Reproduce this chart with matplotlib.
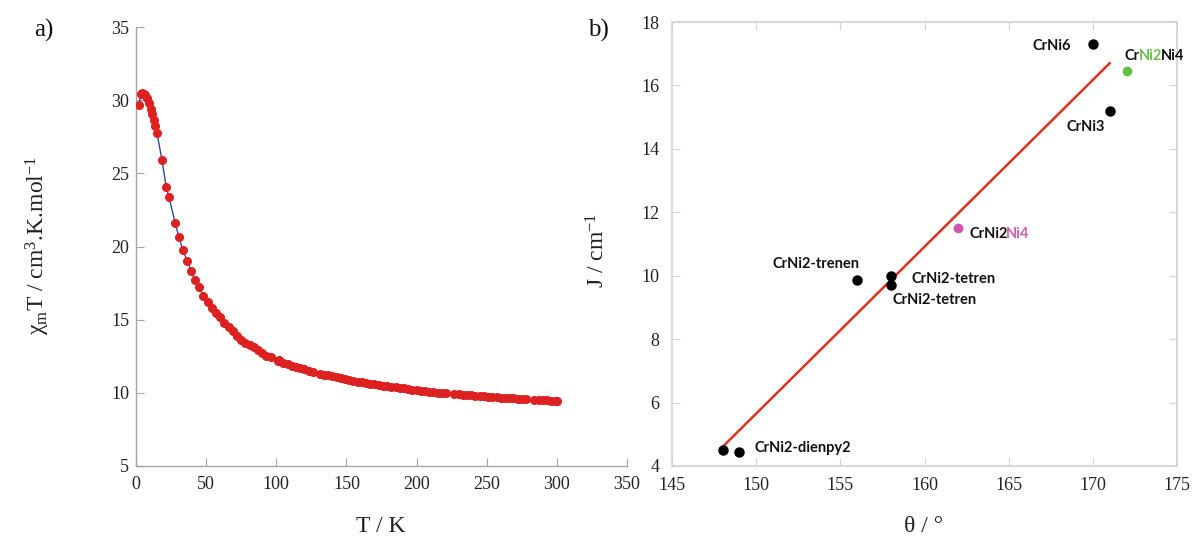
import numpy as np
import matplotlib as mpl
mpl.use('Agg')
import matplotlib.pyplot as plt

SERIF = 'Liberation Serif'
SANS = 'Lato'
plt.rcParams['font.family'] = [SERIF, 'DejaVu Serif']
plt.rcParams['mathtext.fontset'] = 'custom'
plt.rcParams['mathtext.rm'] = SERIF
plt.rcParams['mathtext.it'] = SERIF + ':italic'
plt.rcParams['mathtext.bf'] = SERIF + ':bold'

# ---- a) chi_m T vs T (read off the picture)
T_K = [2, 3.5, 4.5, 5.5, 6.5, 8, 9.5, 10.5, 11.5, 12.5, 13.5, 15, 18.5, 21.5, 23.5,
       28, 30.5, 33.5, 36.5, 39.5, 42, 45, 48, 51, 54, 57, 60, 63, 66, 69, 72, 75,
       78, 81, 84, 87, 90, 93, 96, 101, 102, 105, 108, 111, 114, 117, 120, 123, 126,
       131, 134, 137, 140, 143, 146, 149, 152, 155, 158, 161, 164, 167, 170, 173,
       176, 179, 182, 185, 188, 191, 194, 197, 200, 203, 206, 209, 212, 215, 218,
       221, 227, 230, 233, 236, 239, 242, 245, 248, 251, 254, 257, 260, 263, 266,
       269, 272, 275, 278, 284, 287, 290, 293, 296, 299, 300]
chiT = [29.7, 30.4, 30.5, 30.45, 30.35, 30.15, 29.8, 29.4, 29.05, 28.65, 28.25, 27.75,
        25.9, 24.1, 23.35, 21.6, 20.65, 19.75, 19.0, 18.3, 17.7, 17.2, 16.65, 16.2,
        15.8, 15.45, 15.15, 14.8, 14.5, 14.2, 13.85, 13.6, 13.4, 13.25, 13.1, 12.9,
        12.7, 12.55, 12.45, 12.2, 12.25, 12.05, 11.95, 11.85, 11.75, 11.68, 11.6,
        11.52, 11.45, 11.3, 11.25, 11.2, 11.12, 11.05, 10.98, 10.92, 10.86, 10.8,
        10.76, 10.72, 10.68, 10.63, 10.58, 10.55, 10.5, 10.46, 10.42, 10.38, 10.34,
        10.3, 10.26, 10.22, 10.18, 10.14, 10.1, 10.07, 10.04, 10.01, 9.99, 9.97,
        9.93, 9.9, 9.88, 9.85, 9.83, 9.8, 9.78, 9.76, 9.74, 9.72, 9.7, 9.68, 9.66,
        9.64, 9.62, 9.6, 9.58, 9.56, 9.53, 9.51, 9.5, 9.49, 9.47, 9.45, 9.44]

# ---- b) J vs theta
theta_black = [148, 149, 156, 158, 158, 170, 171]
J_black = [4.5, 4.45, 9.85, 10.0, 9.7, 17.3, 15.2]
theta_green, J_green = 172, 16.45
theta_pink, J_pink = 162, 11.5
fit_theta = [148, 171]
fit_J = [4.6, 16.7]

fig = plt.figure(figsize=(11.96, 5.41), dpi=100)
ax1 = fig.add_axes([136/1196, 1-466/541, 491/1196, 439/541])
ax2 = fig.add_axes([672/1196, 1-466/541, 505/1196, 444/541])

# left panel
ax1.plot(T_K, chiT, color='#3344aa', lw=1.0, zorder=2)
ax1.plot(T_K, chiT, 'o', color='#dd2020', ms=5.5, mec='#dd2020', zorder=3)
ax1.set_xlim(0, 350)
ax1.set_ylim(5, 35)
ax1.set_xticks(np.arange(0, 351, 50))
ax1.set_yticks(np.arange(5, 36, 5))
for s in ['top', 'right']:
    ax1.spines[s].set_visible(False)
for s in ['left', 'bottom']:
    ax1.spines[s].set_color('#aaa2a2')
    ax1.spines[s].set_linewidth(1.0)
ax1.tick_params(direction='in', length=6, color='#aaa2a2', labelsize=13,
                labelcolor='#222222')
ax1.tick_params(axis='y', pad=5)
ax1.tick_params(axis='x', pad=7)

# right panel
ax2.plot(fit_theta, fit_J, color='#e03020', lw=1.8, zorder=2)
ax2.plot(theta_black, J_black, 'o', color='black', ms=6.5, zorder=3)
ax2.plot([theta_green], [J_green], 'o', color='#66c040', ms=6, zorder=3)
ax2.plot([theta_pink], [J_pink], 'o', color='#d055b0', ms=6, zorder=3)
ax2.set_xlim(145, 175)
ax2.set_ylim(4, 18)
ax2.set_xticks(np.arange(145, 176, 5))
ax2.set_yticks(np.arange(4, 19, 2))
for s in ax2.spines.values():
    s.set_color('#d8d0d0')
    s.set_linewidth(1.2)
ax2.tick_params(direction='in', length=6, color='#d8d0d0', labelsize=13,
                labelcolor='#222222', top=True, right=True)
ax2.tick_params(axis='y', pad=9)
ax2.tick_params(axis='x', pad=8)

lab_kw = dict(fontsize=10.5, fontweight='bold', family=SANS)
renderer = fig.canvas.get_renderer()


def multi_text(ax, x, y, parts):
    # coloured pieces of one label, put side by side
    t = ax.text(x, y, parts[0][0], color=parts[0][1], ha='left', va='baseline', **lab_kw)
    prev = parts[0][0]
    for s, c in parts[1:]:
        ex = t.get_window_extent(renderer)
        x0, y0 = t.get_transform().transform(t.get_position())
        x1 = ex.x1 - (2 if prev[-1].isdigit() else 0)  # tabular digits leave a gap
        t = ax.text(x1, y0, s, color=c, ha='left', va='baseline',
                    transform=None, **lab_kw)
        prev = s
    return t


ax2.text(168.7, 17.24, 'CrNi6', ha='right', va='center', color='#111111', **lab_kw)
multi_text(ax2, 171.86, 16.80, [('Cr', '#111111'), ('Ni2', '#6cc04a'), ('Ni4', '#111111')])
ax2.text(169.6, 14.69, 'CrNi3', ha='center', va='center', color='#111111', **lab_kw)
multi_text(ax2, 162.7, 11.19, [('CrNi2', '#111111'), ('Ni4', '#d060b0')])
ax2.text(153.56, 10.37, 'CrNi2-trenen', ha='center', va='center', color='#111111', **lab_kw)
ax2.text(159.2, 9.9, 'CrNi2-tetren', ha='left', va='center', color='#111111', **lab_kw)
ax2.text(158.07, 9.23, 'CrNi2-tetren', ha='left', va='center', color='#111111', **lab_kw)
ax2.text(149.93, 4.56, 'CrNi2-dienpy2', ha='left', va='center', color='#111111', **lab_kw)

# axis titles and panel letters
fig.text(381/1196, 1-527/541, 'T / K', ha='center', va='center',
         fontsize=17, color='#222222')
fig.text(924/1196, 1-527/541, 'θ / °', ha='center', va='center',
         fontsize=17, color='#222222')
fig.text(38/1196, 1-245/541, r'$\mathrm{\chi}_\mathrm{m}$T / cm$^\mathrm{3}$.K.mol$^\mathrm{-1}$',
         rotation=90, ha='center', va='center', fontsize=17, color='#222222')
fig.text(598/1196, 1-250/541, r'J / cm$^\mathrm{-1}$', rotation=90, ha='center',
         va='center', fontsize=17, color='#222222')
fig.text(44/1196, 1-30/541, 'a)', ha='center', va='center', fontsize=18, color='#111111')
fig.text(598/1196, 1-30/541, 'b)', ha='center', va='center', fontsize=18, color='#111111')

fig.savefig('out.png', dpi=100)
